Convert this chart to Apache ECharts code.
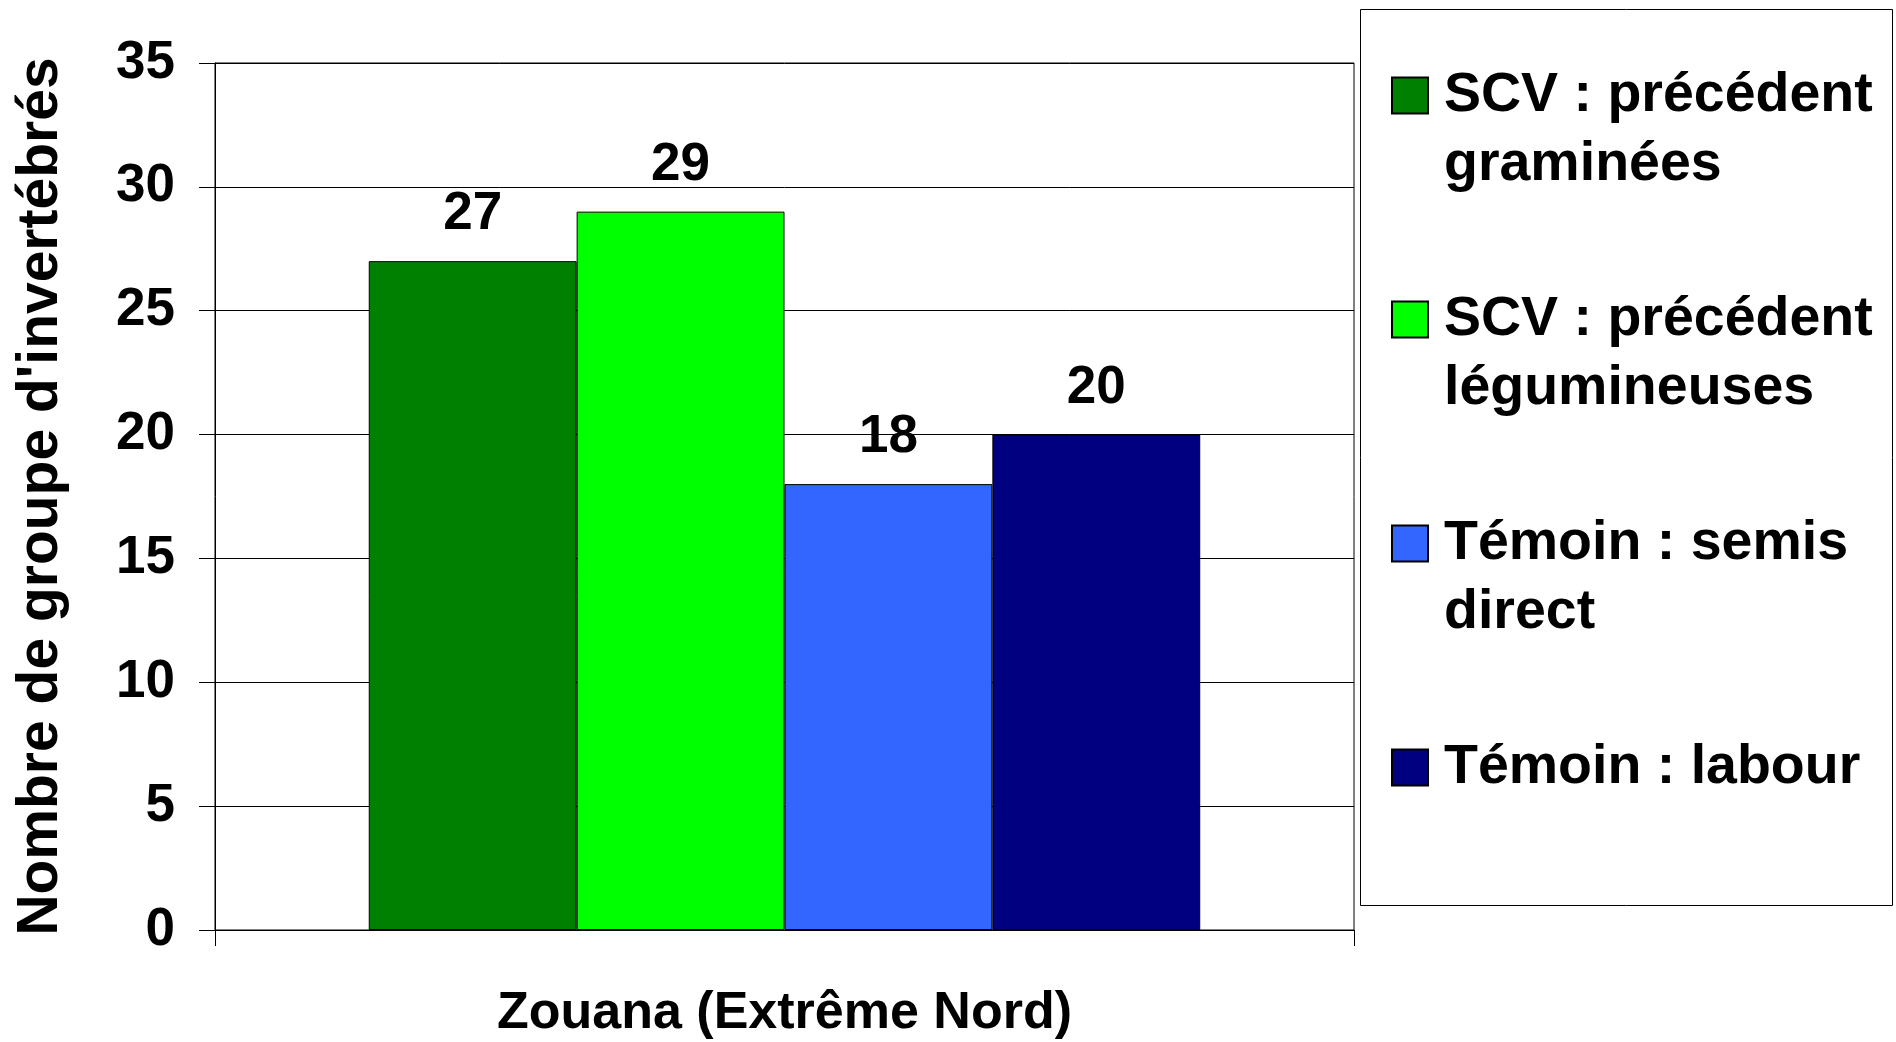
<!DOCTYPE html>
<html>
<head>
<meta charset="utf-8">
<style>
  html, body { margin: 0; padding: 0; background: #ffffff; }
  #chart { width: 1896px; height: 1042px; }
</style>
<script src="https://cdn.jsdelivr.net/npm/echarts@6/dist/echarts.min.js"></script>
</head>
<body>
<div id="chart"></div>
<script>
// ---- data ----
const categories = ['Zouana (Extrême Nord)'];
const seriesNames = [
  'SCV : précédent\ngraminées',
  'SCV : précédent\nlégumineuses',
  'Témoin : semis\ndirect',
  'Témoin : labour'
];
const seriesColors = ['#008000', '#00FF00', '#3366FF', '#000080'];
const valuesGraminees = [27];
const valuesLegumineuses = [29];
const valuesSemisDirect = [18];
const valuesLabour = [20];
const yTitle = "Nombre de groupe d'invertébrés";
const yMin = 0, yMax = 35, yInterval = 5;

const FONT = "'Liberation Sans', Arial, Helvetica, sans-serif";
const seriesValues = [valuesGraminees, valuesLegumineuses, valuesSemisDirect, valuesLabour];

const chart = echarts.init(document.getElementById('chart'), null, { renderer: 'canvas' });

const series = seriesNames.map((name, i) => ({
  name: name,
  type: 'bar',
  data: seriesValues[i],
  barGap: '0%',
  barCategoryGap: '27%',
  itemStyle: { color: seriesColors[i], borderColor: '#000000', borderWidth: 1 },
  label: {
    show: true,
    position: 'top',
    distance: 20,
    color: '#000000',
    fontFamily: FONT,
    fontWeight: 'bold',
    fontSize: 53
  },
  emphasis: { disabled: true }
}));

const option = {
  animation: false,
  backgroundColor: '#ffffff',
  textStyle: { fontFamily: FONT },
  grid: {
    left: 215, right: 542, top: 63, bottom: 112,
    show: true, borderColor: '#000000', borderWidth: 1, backgroundColor: 'transparent'
  },
  xAxis: {
    type: 'category',
    data: categories,
    axisLine: { lineStyle: { color: '#000000', width: 1 } },
    axisTick: { show: true, length: 16, alignWithLabel: false, lineStyle: { color: '#000000' } },
    axisLabel: {
      margin: 58, color: '#000000', fontFamily: FONT, fontWeight: 'bold', fontSize: 52
    },
    splitLine: { show: false }
  },
  yAxis: {
    type: 'value',
    min: yMin, max: yMax, interval: yInterval,
    name: yTitle,
    nameLocation: 'middle',
    nameGap: 145,
    nameRotate: 90,
    nameTextStyle: {
      color: '#000000', fontFamily: FONT, fontWeight: 'bold', fontSize: 57
    },
    axisLine: { show: true, lineStyle: { color: '#000000', width: 1 } },
    axisTick: { show: true, length: 16, lineStyle: { color: '#000000' } },
    axisLabel: {
      margin: 40, color: '#000000', fontFamily: FONT, fontWeight: 'bold', fontSize: 53
    },
    splitLine: { show: true, lineStyle: { color: '#000000', width: 1 } }
  },
  legend: {
    orient: 'vertical',
    left: 1391,
    top: -8,
    padding: 0,
    itemWidth: 36,
    itemHeight: 36,
    itemGap: 17,
    icon: 'rect',
    selectedMode: false,
    data: seriesNames,
    formatter: function (name) {
      const lines = name.split('\n');
      while (lines.length < 2) lines.push(' ');
      return ' \n' + lines.join('\n');
    },
    textStyle: {
      color: '#000000', fontFamily: FONT, fontWeight: 'bold', fontSize: 55.5,
      lineHeight: 69, padding: [0, 0, 0, 11]
    }
  },
  graphic: [{
    type: 'rect',
    z: -1,
    silent: true,
    shape: { x: 1360.5, y: 9.5, width: 532, height: 896 },
    style: { fill: '#ffffff', stroke: '#000000', lineWidth: 1 }
  }],
  series: series
};

chart.setOption(option);
</script>
</body>
</html>
